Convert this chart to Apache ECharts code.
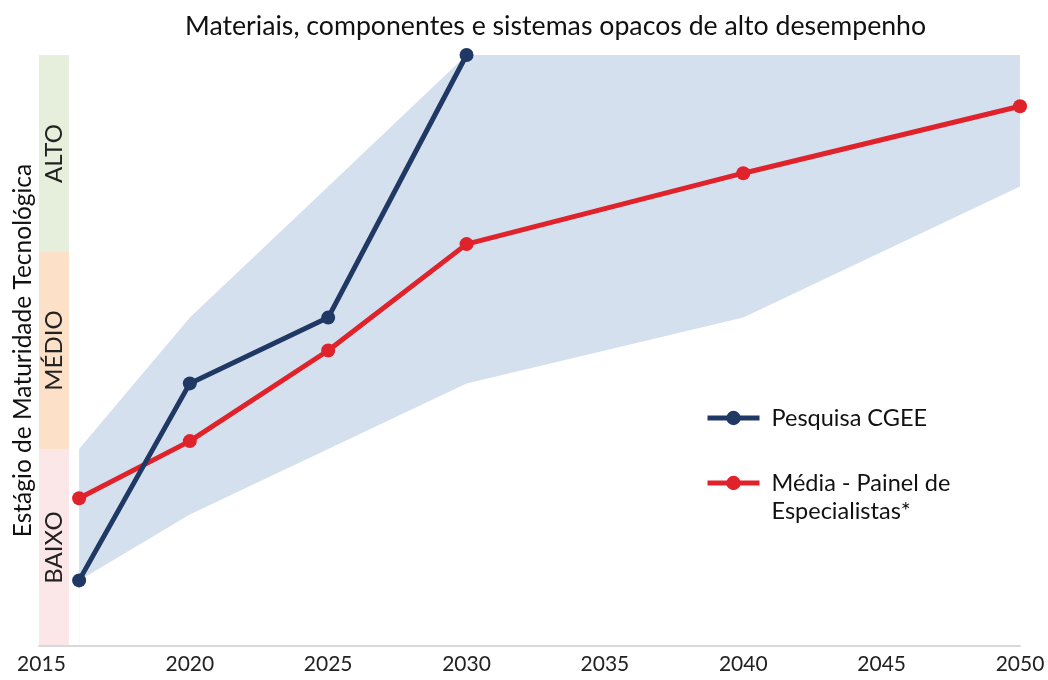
<!DOCTYPE html>
<html>
<head>
<meta charset="utf-8">
<script src="https://cdn.jsdelivr.net/npm/echarts@6/dist/echarts.min.js"></script>
<style>html,body{margin:0;padding:0;background:#fff}#c{width:1048px;height:680px}</style>
</head>
<body>
<div id="c"></div>
<script>
const years = [2016, 2020, 2025, 2030, 2040, 2050];
const cgeeYears = [2016, 2020, 2025, 2030];
const cgee = [0.333, 1.333, 1.667, 3.0];
const media = [0.75, 1.04, 1.5, 2.04, 2.4, 2.74];
const bandLow = [0.333, 0.667, 1.0, 1.333, 1.667, 2.333];
const bandHigh = [1.0, 1.667, 2.333, 3.0, 3.0, 3.0];
const xTicks = [2015, 2020, 2025, 2030, 2035, 2040, 2045, 2050];
const levels = ['BAIXO', 'MÉDIO', 'ALTO'];
const levelColors = ['#fbe6e8', '#fde0c8', '#e6efdc'];
const nameCgee = 'Pesquisa CGEE';
const nameMedia = 'Média - Painel de\nEspecialistas*';

const FONT = 'Lato, "Open Sans", sans-serif';
const X_MIN = 2014.55;
const chart = echarts.init(document.getElementById('c'));

const levelAreas = levels.map((l, i) => [
  { xAxis: X_MIN, yAxis: i, itemStyle: { color: levelColors[i] }, name: l },
  { xAxis: 2015.63, yAxis: i + 1 }
]);

chart.setOption({
  animation: false,
  textStyle: { fontFamily: FONT },
  title: {
    text: 'Materiais, componentes e sistemas opacos de alto desempenho',
    left: 180, top: 8,
    textStyle: { fontFamily: FONT, fontSize: 26.7, fontWeight: 'normal', color: '#111' }
  },
  grid: { left: 39, right: 28, top: 55, bottom: 34, containLabel: false },
  legend: {
    data: [nameCgee, nameMedia],
    orient: 'vertical', left: 705, top: 404, padding: 0,
    itemWidth: 52, itemHeight: 18, itemGap: 9,
    lineStyle: { width: 5 },
    formatter: function (n) { return n === nameMedia ? '\u00a0\n' + n : n; },
    textStyle: { fontFamily: FONT, fontSize: 23.5, color: '#111', lineHeight: 28, padding: [0, 0, 0, 7] }
  },
  xAxis: {
    type: 'value', min: X_MIN, max: 2050, z: 5,
    axisLine: { show: true, lineStyle: { color: '#d9d9d9', width: 2 } },
    axisTick: { show: false },
    splitLine: { show: false },
    axisLabel: {
      customValues: xTicks, color: '#222', fontSize: 21, margin: 8, fontFamily: FONT,
      formatter: v => (v === xTicks[0] ? '{first|' + v + '}' : String(v)),
      rich: { first: { fontFamily: FONT, fontSize: 21, color: '#222', padding: [0, 20, 0, 0] } }
    }
  },
  yAxis: {
    type: 'value', min: 0, max: 3,
    name: 'Estágio de Maturidade Tecnológica',
    nameLocation: 'middle', nameRotate: 90, nameGap: 3,
    nameTextStyle: { fontFamily: FONT, fontSize: 24.5, color: '#111' },
    axisLine: { show: false }, axisTick: { show: false },
    axisLabel: { show: false }, splitLine: { show: false }
  },
  series: [
    {
      name: 'bandHigh', type: 'line', symbol: 'none',
      data: years.map((y, i) => [y, bandHigh[i]]),
      lineStyle: { opacity: 0 },
      areaStyle: { color: '#d5e0ef', opacity: 1, origin: 'start' }, silent: true, z: 1,
      markArea: {
        silent: true,
        label: { show: true, position: 'inside', rotate: 90, fontFamily: FONT, fontSize: 24, color: '#222' },
        data: levelAreas
      }
    },
    {
      name: 'bandLow', type: 'line', symbol: 'none',
      data: years.map((y, i) => [y, bandLow[i]]),
      lineStyle: { opacity: 0 },
      areaStyle: { color: '#ffffff', opacity: 1, origin: 'start' }, silent: true, z: 1
    },
    {
      name: nameMedia, type: 'line', symbol: 'circle', symbolSize: 14,
      data: years.map((y, i) => [y, media[i]]),
      lineStyle: { color: '#e0222b', width: 5 },
      itemStyle: { color: '#e0222b' }, z: 3
    },
    {
      name: nameCgee, type: 'line', symbol: 'circle', symbolSize: 14,
      data: cgeeYears.map((y, i) => [y, cgee[i]]),
      lineStyle: { color: '#1f3864', width: 5 },
      itemStyle: { color: '#1f3864' }, z: 4
    }
  ]
});
</script>
</body>
</html>
